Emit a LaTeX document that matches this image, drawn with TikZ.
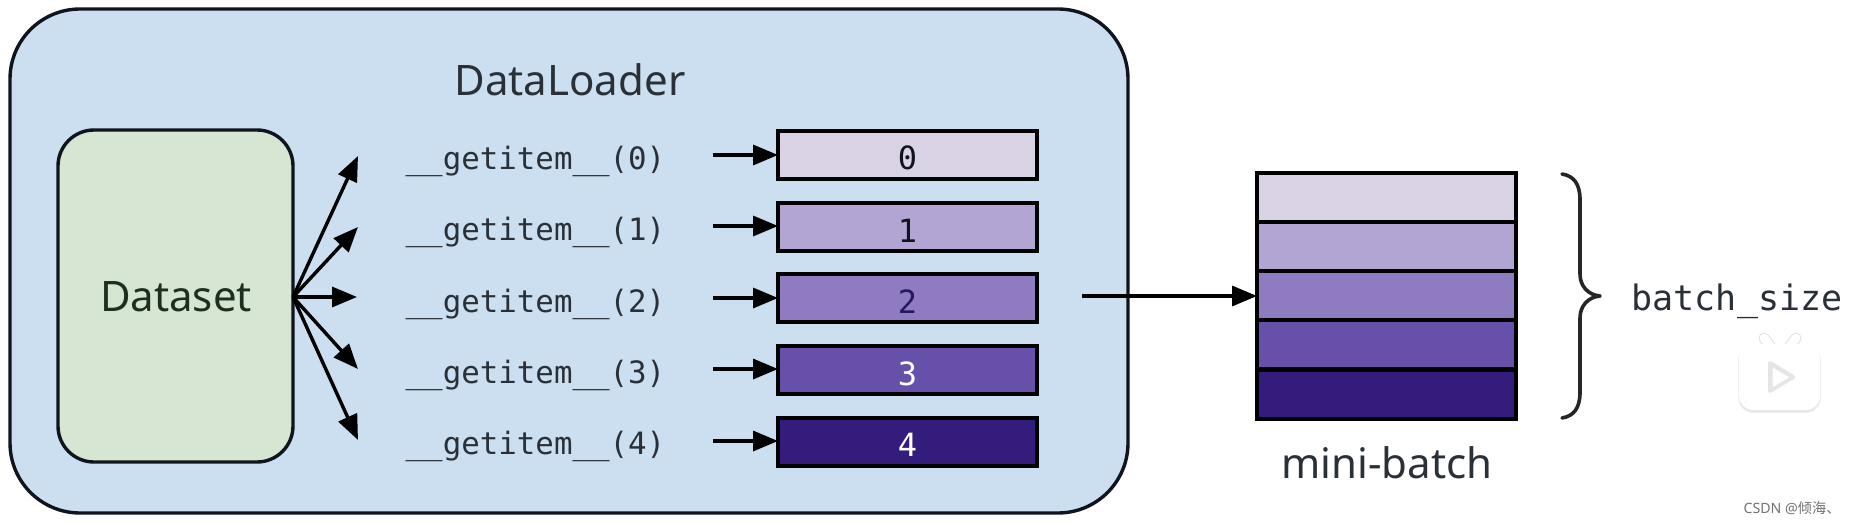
\documentclass[tikz,border=0pt]{standalone}
\usepackage{fontspec}
\setmainfont{Noto Sans}
\setmonofont{DejaVu Sans Mono}
\newfontfamily\cjkwm{Noto Sans CJK SC}
\usetikzlibrary{arrows.meta}
\definecolor{bgblue}{HTML}{CCDFF0}
\definecolor{dsgreen}{HTML}{D6E6D2}
\definecolor{inka}{HTML}{10141C}
\definecolor{txtgrey}{HTML}{2A3038}
\definecolor{dstext}{HTML}{1E2E20}
\definecolor{cA}{HTML}{DAD3E6}
\definecolor{cB}{HTML}{B2A5D3}
\definecolor{cC}{HTML}{8E7BC0}
\definecolor{cD}{HTML}{6650AA}
\definecolor{cE}{HTML}{331C7C}
\tikzset{
  x=1pt,y=-1pt,
  outerbox/.style={draw=inka,line width=3.4pt,fill=bgblue,rounded corners=70pt},
  databox/.style={draw=inka,line width=3.4pt,fill=dsgreen,rounded corners=36pt},
  rowbox/.style={draw=black,line width=4pt,minimum width=259pt,minimum height=48pt,inner sep=0pt,outer sep=0pt},
  rowdigit/.style={font=\ttfamily\fontsize{32}{32}\selectfont,anchor=base,inner sep=0pt},
  batchrow/.style={draw=black,line width=4pt,minimum width=259pt,minimum height=49pt,inner sep=0pt,outer sep=0pt},
  callname/.style={font=\ttfamily\fontsize{30.8}{30.8}\selectfont,text=txtgrey,anchor=base,inner sep=0pt},
  label/.style={font=\fontsize{42}{42}\selectfont,text=txtgrey,anchor=base,inner sep=0pt},
  conn/.style={draw=black,line width=3.4pt,-{Triangle[length=25pt,width=20pt]},shorten <=0pt},
  earshade/.style={draw=black!12,line width=11pt,line cap=round},
  earlight/.style={draw=white,line width=9pt,line cap=round},
}
\begin{document}
\begin{tikzpicture}
\useasboundingbox (0,0) rectangle (1850,524);
\fill[white] (0,0) rectangle (1850,524);
% DataLoader container
\path[outerbox] (10,9) rectangle (1128,513);
\node[label] (dl) at (570,95.5) {DataLoader};
% Dataset
\path[databox] (58,130) rectangle (293,462);
\coordinate (dsbox) at (293,297);
\node[label,text=dstext] (ds) at (176,311) {Dataset};
% Free ends of the fan
\coordinate (f0) at (358,156);
\coordinate (f1) at (358,227);
\coordinate (f2) at (357,297);
\coordinate (f3) at (358,369);
\coordinate (f4) at (358,440);
\foreach \i in {0,...,4} \draw[conn] (dsbox) -- (f\i);
% getitem labels
\node[callname] (g0) at (535.5,169) {\_\_getitem\_\_(0)};
\node[callname] (g1) at (535.5,240) {\_\_getitem\_\_(1)};
\node[callname] (g2) at (535.5,312) {\_\_getitem\_\_(2)};
\node[callname] (g3) at (535.5,383) {\_\_getitem\_\_(3)};
\node[callname] (g4) at (535.5,454) {\_\_getitem\_\_(4)};
% rows
\node[rowbox,fill=cA] (r0) at (907.5,155) {};
\node[rowbox,fill=cB] (r1) at (907.5,226.5) {};
\node[rowbox,fill=cC] (r2) at (907.5,298) {};
\node[rowbox,fill=cD] (r3) at (907.5,369.5) {};
\node[rowbox,fill=cE] (r4) at (907.5,441.5) {};
\node[rowdigit,text=inka] (d0) at (907.5,170) {0};
\node[rowdigit,text=inka] (d1) at (907.5,242) {1};
\node[rowdigit,text=cE!80!black] (d2) at (907.5,313) {2};
\node[rowdigit,text=white] (d3) at (907.5,385) {3};
\node[rowdigit,text=white] (d4) at (907.5,456) {4};
\coordinate (s0) at (713,155);
\coordinate (s1) at (713,226);
\coordinate (s2) at (713,298);
\coordinate (s3) at (713,369);
\coordinate (s4) at (713,441);
\foreach \i in {0,...,4} \draw[conn] (s\i) -- (r\i.west |- s\i);
% mini-batch
\node[batchrow,fill=cA] (b0) at (1386.5,197.5) {};
\node[batchrow,fill=cB] (b1) at (1386.5,246.5) {};
\node[batchrow,fill=cC] (b2) at (1386.5,295.5) {};
\node[batchrow,fill=cD] (b3) at (1386.5,344.5) {};
\node[batchrow,fill=cE] (b4) at (1386.5,394) {};
\coordinate (bs) at (1082,296);
\draw[conn] (bs) -- (b2.west |- bs);
\node[label] (mb) at (1387,478) {mini-batch};
% brace
\coordinate (bt) at (1562,174);
\coordinate (bb) at (1562,418);
\coordinate (bm) at (1600,296);
\draw[black!85,line width=3.6pt,line cap=round,line join=round,fill=none]
  (bt) .. controls (1574,176) and (1580,184) .. (1580,200)
  -- (1580,274) .. controls (1580,286) and (1588,295) .. (bm)
  .. controls (1588,297) and (1580,306) .. (1580,318)
  -- (1580,392) .. controls (1580,408) and (1574,416) .. (bb);
\node[callname,font=\ttfamily\fontsize{35}{35}\selectfont] (bsz) at (1737,310) {batch\_size};
% play-icon overlay
\draw[earshade] (1764,338) -- (1773,350);
\draw[earshade] (1796,338) -- (1787,350);
\path[fill=black!6] (1738,345) [rounded corners=15pt] rectangle (1821,413);
\path[fill=black!10] (1739,346) [rounded corners=15pt] rectangle (1820,412);
\draw[earlight] (1764,338) -- (1773,350);
\draw[earlight] (1796,338) -- (1787,350);
\path[fill=white] (1739,344) [rounded corners=14pt] rectangle (1820,410);
\path[fill=black!6,draw=black!10,line width=4pt,line join=round] (1770,363) -- (1793,377) -- (1770,391) -- cycle;
\path[fill=white] (1773,368) -- (1789,377.5) -- (1773,387) -- cycle;
% watermark
\node[anchor=base,inner sep=0pt,text=black!55,font=\fontsize{14.2}{14.2}\selectfont] (wm) at (1792,513) {CSDN @{\cjkwm 倾海、}};
\end{tikzpicture}
\end{document}
